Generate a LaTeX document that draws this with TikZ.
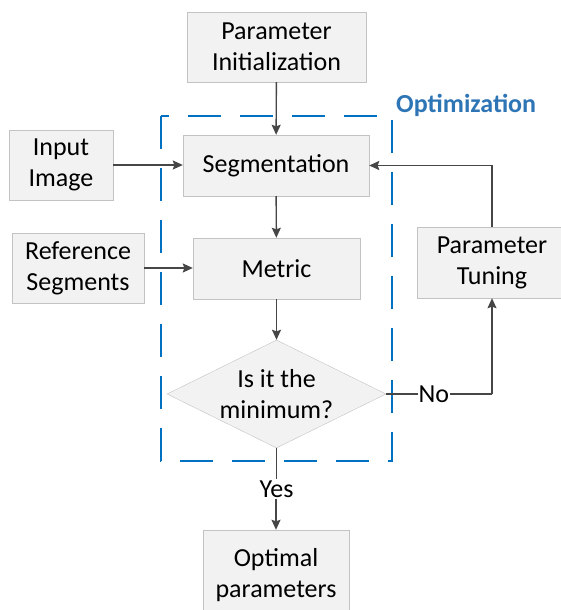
\documentclass[tikz,border=0pt]{standalone}
\usepackage{fontspec}
\setmainfont{Carlito}
\usepackage{tikz}
\usetikzlibrary{arrows.meta,positioning,shapes.geometric}

\definecolor{optblue}{RGB}{0,112,192}
\definecolor{optlabel}{RGB}{46,117,182}
\definecolor{boxline}{RGB}{195,195,195}
\definecolor{boxfill}{RGB}{242,242,242}
\definecolor{arrgray}{RGB}{70,70,70}

\begin{document}
\begin{tikzpicture}[
  x=1pt, y=-1pt,
  every node/.style={font=\fontsize{26}{31}\selectfont},
  box/.style={draw=boxline, fill=boxfill, align=center, inner sep=2pt},
  dec/.style={diamond, draw=boxline, fill=boxfill, inner sep=0pt,
              minimum width=219pt, minimum height=108pt},
  arr/.style={-{Stealth[length=10pt, width=9pt, inset=1.5pt]}, draw=arrgray, line width=1.4pt},
  link/.style={draw=arrgray, line width=1.4pt},
  optbox/.style={draw=optblue, line width=2pt, dash pattern=on 33pt off 19pt},
]
\useasboundingbox (0,0) rectangle (560,610);

% main column
\node[box, minimum width=179pt, minimum height=70pt] (init) at (276.5,47) {Parameter\\Initialization};
\node[box, minimum width=186pt, minimum height=61pt] (seg) at (276,165.5) {Segmentation};
\node[box, minimum width=167pt, minimum height=61pt] (metric) at (276.5,268.5) {Metric};
\node[dec] (check) at (276.5,394) {};
\node[align=center] (checktext) at (check.center) {Is it the\\minimum?};
\node[box, minimum width=146pt, minimum height=90pt] (opt) at (276,575) {Optimal\\parameters};

% side inputs
\node[box, minimum width=104pt, minimum height=70pt] (input) at (61,165) {Input\\Image};
\node[box, minimum width=132pt, minimum height=70pt] (ref) at (78,268) {Reference\\Segments};
\node[box, minimum width=150pt, minimum height=71pt] (tune) at (492,262.5) {Parameter\\Tuning};

% optimization frame
\draw[optbox] (161,116) rectangle (392,461);
\node[anchor=base west, font=\fontsize{26}{30}\selectfont\bfseries, text=optlabel, inner sep=0pt]
   (optname) at (396,112) {Optimization};

\draw[arr] (init) -- (seg);
\draw[arr] (seg) -- (metric);
\draw[arr] (metric) -- (check);
\draw[arr] (input) -- (input -| seg.west);
\draw[arr] (ref) -- (ref -| metric.west);
\draw[link] (check.east) -- node[fill=white, inner sep=1pt, pos=0.45] (no) {No} (check.east -| tune.south);
\draw[arr] (check.east -| tune.south) -- (tune.south);
\draw[arr] (tune.north) |- (seg.east);
\node[fill=white, inner sep=1pt] (yes) at (276.5,489) {Yes};
\draw[arr] (yes.south -| opt.north) -- (opt.north);
\draw[link] (check.south) -- (yes.north -| check.south);
\end{tikzpicture}
\end{document}
